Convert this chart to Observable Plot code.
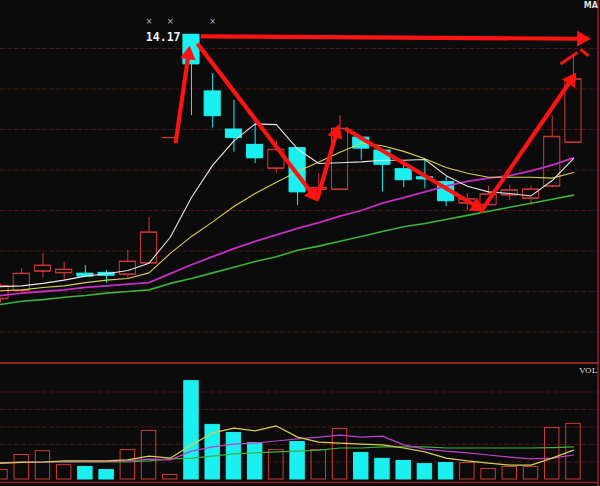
<!DOCTYPE html>
<html><head><meta charset="utf-8">
<script src="https://cdn.jsdelivr.net/npm/d3@7"></script>
<script src="https://cdn.jsdelivr.net/npm/@observablehq/plot@0.6"></script>
<style>
html,body{margin:0;padding:0;background:#0b0b0b;}
#chart{width:600px;height:486px;overflow:hidden;background:#0b0b0b;line-height:0}
#chart svg{display:block}
</style></head><body><div id="chart"></div>
<script>
// ---- data ----
const dayIndex = d3.range(28);
const openP  = [10.91,11.01,11.25,11.23,11.22,11.23,11.21,11.35,12.90,14.17,13.47,13.00,12.81,12.52,12.77,12.26,12.26,12.90,12.74,12.51,12.41,12.35,12.09,12.07,12.19,12.15,12.30,12.84];
const highP  = [11.09,11.28,11.47,11.36,11.32,11.26,11.51,11.91,12.90,14.17,13.69,13.36,13.07,12.86,12.77,12.46,13.17,12.90,12.74,12.56,12.62,12.41,12.21,12.30,12.31,12.30,13.17,13.91];
const lowP   = [10.86,10.99,11.17,11.14,11.18,11.10,11.16,11.35,12.90,13.17,13.02,12.72,12.58,12.46,12.06,12.12,12.25,12.62,12.23,12.28,12.27,12.05,12.00,12.06,12.12,12.06,12.28,12.83];
const closeP = [11.07,11.22,11.32,11.27,11.19,11.20,11.37,11.73,12.90,13.81,13.17,12.90,12.65,12.75,12.23,12.28,13.01,12.77,12.57,12.38,12.39,12.12,12.14,12.20,12.25,12.26,12.91,13.62];
const ma5  = [11.06,11.07,11.10,11.14,11.19,11.22,11.26,11.35,11.67,12.16,12.56,12.86,13.07,13.06,12.76,12.58,12.59,12.60,12.62,12.62,12.63,12.43,12.30,12.23,12.21,12.18,12.37,12.64];
const ma10 = [11.01,11.02,11.05,11.07,11.11,11.14,11.16,11.23,11.47,11.68,11.86,12.05,12.21,12.35,12.48,12.60,12.72,12.83,12.80,12.73,12.64,12.53,12.46,12.41,12.41,12.41,12.40,12.47];
const ma20 = [10.95,10.98,11.00,11.02,11.05,11.07,11.09,11.11,11.22,11.33,11.43,11.53,11.62,11.70,11.78,11.85,11.93,12.00,12.09,12.16,12.23,12.30,12.36,12.40,12.43,12.49,12.56,12.65];
const ma30 = [10.84,10.88,10.90,10.93,10.95,10.98,11.00,11.02,11.10,11.16,11.23,11.30,11.37,11.43,11.51,11.56,11.62,11.68,11.74,11.80,11.84,11.89,11.94,11.99,12.04,12.09,12.14,12.19];
const volume = [2.7,7.0,8.1,4.1,3.6,2.7,8.4,13.9,1.3,28.1,15.6,13.3,10.4,8.4,10.7,8.4,14.4,7.6,5.9,5.3,4.4,4.7,4.7,3.0,3.6,3.6,14.7,15.9];
const vma5  = [4.7,4.9,5.0,5.3,5.3,5.3,5.6,6.7,6.1,9.9,13.3,14.7,13.9,15.3,12.1,10.7,10.4,10.1,9.9,9.0,7.9,6.1,5.3,4.7,4.1,4.1,6.1,8.4];
const vma10 = [4.8,4.9,5.0,5.0,5.1,5.1,5.3,5.8,5.6,8.1,9.3,10.1,10.4,11.0,11.6,12.1,12.7,12.1,12.4,9.9,8.7,8.1,7.6,7.0,6.4,5.9,6.1,7.0];
const vma20 = [4.7,5.0,5.0,5.0,5.0,5.0,5.0,5.3,5.9,6.1,6.7,7.3,7.6,7.9,8.1,8.4,9.0,9.0,9.3,9.3,9.3,9.0,9.0,9.0,9.0,9.0,9.1,9.3];
const priceGrid = [10.5,11.0,11.5,12.0,12.5,13.0,13.5,14.0];
const volGrid = [5,10,15,20,25];
const peakLabel = "14.17";
const peakIndex = 9;
const markerIdx = [7,8,10];
// annotation arrows (index, price)
const arrowFromX = [8.25, 9.43, 9.28, 14.94, 16.26, 22.62];
const arrowFromY = [12.83, 14.15, 14.06, 12.15, 13.01, 11.98];
const arrowToX   = [8.91, 27.76, 14.94, 15.93, 22.76, 27.10];
const arrowToY   = [14.02, 14.12, 12.12, 13.05, 12.00, 13.69];
const strokeFromX = [26.39, 27.33];
const strokeFromY = [13.81, 13.99];
const strokeToX   = [27.19, 27.71];
const strokeToY   = [13.95, 13.91];

// ---- styling ----
const BG = "#0b0b0b", RED = "#d03a3a", CYAN = "#1af0f0", GRID = "#4c1414", BORDER = "#8e2424", ARROW = "#ff1212";
const X_MAX = 28.157;           // right border position in index units
const Y_MAIN = [10.1235, 14.5926];
const VOL_Y = [-2.0, 33.43];

const candles = dayIndex.map(i => ({i, o: openP[i], h: highP[i], l: lowP[i], c: closeP[i], up: closeP[i] >= openP[i], v: volume[i]}));
const col = d => d.up ? RED : CYAN;
const hw = 0.38;

const kx = 597.5 / X_MAX, ky = 362 / (Y_MAIN[1] - Y_MAIN[0]);
const arrows = arrowFromX.map((x1, k) => {
  const x2 = arrowToX[k], y1 = arrowFromY[k], y2 = arrowToY[k];
  const dx = (x2 - x1) * kx, dy = -(y2 - y1) * ky;
  const len = Math.hypot(dx, dy), ux = dx / len, uy = dy / len, back = 7.8;
  return {x1, y1, cx: x2 - ux * back / kx, cy: y2 + uy * back / ky, angle: Math.atan2(dx, -dy) * 180 / Math.PI};
});
const strokes = strokeFromX.map((x1, k) => ({x1, y1: strokeFromY[k], x2: strokeToX[k], y2: strokeToY[k]}));

const maLine = (arr, stroke, w) => Plot.line(dayIndex, {x: d => d, y: d => arr[d], stroke, strokeWidth: w});

const main = Plot.plot({
  width: 600, height: 362, marginLeft: 0, marginRight: 2.5, marginTop: 0, marginBottom: 0,
  style: {background: BG},
  x: {domain: [0, X_MAX], axis: null},
  y: {domain: Y_MAIN, axis: null},
  marks: [
    Plot.ruleY(priceGrid, {stroke: GRID, strokeWidth: 1, strokeDasharray: "5,2"}),
    Plot.ruleX([X_MAX], {stroke: BORDER, strokeWidth: 1.5}),
    // wicks
    Plot.ruleX(candles, {x: "i", y1: "l", y2: d => Math.min(d.o, d.c), stroke: col, strokeWidth: 1}),
    Plot.ruleX(candles, {x: "i", y1: d => Math.max(d.o, d.c), y2: "h", stroke: col, strokeWidth: 1}),
    // bodies
    Plot.rect(candles, {x1: d => d.i - hw, x2: d => d.i + hw, y1: "o", y2: "c", fill: d => d.up ? "none" : CYAN, stroke: col, strokeWidth: 1}),
    Plot.ruleY(candles, {y: "o", x1: d => d.i - hw, x2: d => d.i + hw, stroke: col}),
    Plot.ruleY(candles, {y: "c", x1: d => d.i - hw, x2: d => d.i + hw, stroke: col}),
    // moving averages
    maLine(ma30, "#3cb43c", 1.6),
    maLine(ma20, "#c52fc5", 1.8),
    maLine(ma10, "#d8cf52", 1.1),
    maLine(ma5, "#e6e6e6", 1.1),
    // arrows
    Plot.link(arrows, {x1: "x1", y1: "y1", x2: "cx", y2: "cy", stroke: ARROW, strokeWidth: 4.2}),
    Plot.dot(arrows, {x: "cx", y: "cy", symbol: "triangle", r: 5.2, fill: ARROW, stroke: ARROW, strokeWidth: 1, rotate: "angle"}),
    Plot.link(strokes, {x1: "x1", y1: "y1", x2: "x2", y2: "y2", stroke: ARROW, strokeWidth: 3}),
    // texts
    Plot.text([peakLabel], {x: peakIndex, y: highP[peakIndex], text: d => d, dx: -11, dy: 3, textAnchor: "end",
      fill: "#f2f2f2", fontWeight: "bold", fontSize: 11.5, fontFamily: "DejaVu Sans Mono"}),
    Plot.text(markerIdx, {x: d => d, frameAnchor: "top", dy: 18, text: () => "×", fill: "#bdbdbd", fontSize: 8, fontFamily: "DejaVu Sans"}),
    Plot.text(["MA"], {frameAnchor: "top-right", dx: 0, dy: 2, text: d => d, fill: "#dddddd", fontSize: 8, fontWeight: "bold", fontFamily: "DejaVu Sans"})
  ]
});

const vol = Plot.plot({
  width: 600, height: 124, marginLeft: 0, marginRight: 2.5, marginTop: 0, marginBottom: 0,
  style: {background: BG},
  x: {domain: [0, X_MAX], axis: null},
  y: {domain: VOL_Y, axis: null},
  marks: [
    Plot.ruleY(volGrid, {stroke: GRID, strokeDasharray: "5,2"}),
    Plot.ruleY([VOL_Y[1] - 0.15], {stroke: BORDER, strokeWidth: 2}),
    Plot.ruleY([-0.86], {stroke: BORDER, strokeWidth: 1.5}),
    Plot.ruleX([X_MAX], {stroke: BORDER, strokeWidth: 1.5}),
    Plot.rect(candles, {x1: d => d.i - 0.34, x2: d => d.i + 0.34, y1: 0, y2: "v", fill: d => d.up ? "none" : CYAN, stroke: col, strokeWidth: 1}),
    Plot.line(dayIndex, {x: d => d, y: d => vma20[d], stroke: "#3cb43c", strokeWidth: 1.2}),
    Plot.line(dayIndex, {x: d => d, y: d => vma10[d], stroke: "#c040c8", strokeWidth: 1.2}),
    Plot.line(dayIndex, {x: d => d, y: d => vma5[d], stroke: "#d8cf52", strokeWidth: 1.2}),
    Plot.text(["VOL"], {frameAnchor: "top-right", dx: -1, dy: 5, text: d => d, fill: "#d8d8d8", fontSize: 8, fontFamily: "DejaVu Serif"})
  ]
});

const root = document.getElementById("chart");
root.appendChild(main);
root.appendChild(vol);
</script></body></html>
